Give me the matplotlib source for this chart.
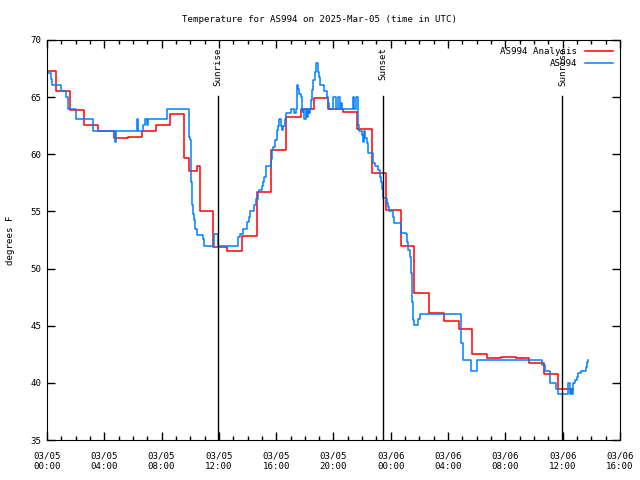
import pandas as pd
import matplotlib
matplotlib.use('Agg')
import matplotlib.pyplot as plt
import matplotlib.dates as mdates

# Start of the plotted period (UTC)
start = pd.Timestamp('2025-03-05 00:00')

# Analysis (hourly) - hours after start, degrees F
analysis_hours = [0.00, 0.61, 1.61, 2.60, 3.58, 4.68, 5.63, 6.60, 7.59, 8.59,
                  9.58, 9.91, 10.48, 10.67, 11.60, 12.59, 13.63, 14.64, 15.62,
                  16.68, 17.73, 18.64, 19.64, 20.68, 21.66, 22.66, 23.65, 24.69,
                  25.64, 26.69, 27.73, 28.76, 29.65, 30.69, 31.69, 32.74, 33.67,
                  34.72, 35.69, 36.70]
analysis_temp = [67.3, 65.5, 63.9, 62.6, 62.0, 61.45, 61.5, 62.0, 62.6, 63.5,
                 59.7, 58.5, 59.0, 55.0, 51.9, 51.5, 52.85, 56.7, 60.4,
                 63.3, 64.0, 64.9, 64.0, 63.7, 62.2, 58.4, 55.1, 51.97,
                 47.9, 46.1, 45.4, 44.7, 42.5, 42.2, 42.3, 42.2, 41.76,
                 40.77, 39.43, 39.43]

# Station observations
obs_hours = [0.00, 0.28, 0.35, 0.98, 1.33, 1.45, 2.02, 3.19, 4.75, 4.82,
             6.26, 6.35, 6.72, 6.84, 6.95, 7.05, 8.36, 9.93, 9.98, 10.03,
             10.10, 10.17, 10.24, 10.33, 10.45, 10.87, 10.96, 11.68, 11.92, 13.35,
             13.47, 13.70, 13.94, 14.10, 14.17, 14.47, 14.57, 14.75, 14.82, 14.99,
             15.08, 15.15, 15.29, 15.62, 15.71, 15.80, 15.92, 16.04, 16.08, 16.15,
             16.22, 16.31, 16.41, 16.50, 16.59, 16.68, 17.01, 17.26, 17.36, 17.43,
             17.54, 17.61, 17.71, 17.78, 17.89, 17.96, 18.06, 18.13, 18.20, 18.29,
             18.36, 18.43, 18.52, 18.59, 18.71, 18.78, 18.90, 18.94, 18.99, 19.06,
             19.36, 19.53, 19.64, 19.71, 19.94, 20.18, 20.29, 20.45, 20.52, 20.59,
             21.34, 21.45, 21.55, 21.73, 21.80, 21.97, 22.04, 22.13, 22.22, 22.32,
             22.43, 22.78, 22.90, 23.13, 23.25, 23.30, 23.37, 23.48, 23.76, 23.83,
             23.90, 24.18, 24.25, 24.71, 25.06, 25.15, 25.22, 25.34, 25.41, 25.46,
             25.53, 25.57, 25.64, 25.92, 26.04, 28.88, 29.06, 29.58, 30.04, 34.58,
             34.77, 35.11, 35.53, 35.65, 36.39, 36.51, 36.58, 36.65, 36.70, 36.74,
             36.86, 36.98, 37.09, 37.26, 37.61, 37.70, 37.79]
obs_temp = [67.1, 66.6, 66.06, 65.5, 65.0, 64.0, 63.06, 62.0, 61.1, 62.0,
            63.06, 62.0, 62.6, 63.06, 62.6, 63.06, 64.0, 61.5, 61.25, 57.6,
            55.56, 54.8, 54.25, 53.5, 52.9, 52.56, 52.0, 53.0, 52.0, 52.8,
            53.0, 53.5, 54.1, 54.5, 55.0, 55.56, 56.05, 56.7, 56.9, 57.2,
            57.6, 58.0, 59.0, 59.6, 60.4, 60.66, 61.25, 61.5, 62.1, 62.5,
            63.06, 62.5, 62.1, 62.5, 63.06, 63.6, 64.0, 63.6, 64.0, 66.06,
            65.7, 65.3, 65.0, 63.7, 64.0, 63.1, 64.0, 63.3, 64.0, 63.6,
            64.0, 64.75, 65.6, 66.5, 67.2, 67.96, 67.7, 67.2, 66.8, 66.06,
            65.5, 65.0, 64.45, 64.0, 65.0, 64.0, 65.0, 64.0, 64.5, 64.0,
            65.0, 64.0, 65.0, 62.56, 62.0, 61.7, 61.1, 62.0, 61.4, 61.0,
            60.1, 59.2, 59.0, 58.6, 58.0, 57.6, 57.0, 56.15, 55.7, 55.4,
            55.03, 54.54, 54.0, 53.1, 53.0, 52.35, 51.6, 51.04, 49.6, 47.1,
            46.2, 45.5, 45.06, 45.56, 46.0, 43.46, 42.0, 41.04, 42.0, 41.56,
            41.04, 40.0, 39.5, 39.0, 40.0, 39.0, 39.5, 39.0, 39.5, 39.96,
            40.25, 40.54, 40.83, 41.06, 41.4, 41.85, 42.0]

# Sun events
sun_labels = ['Sunrise', 'Sunset', 'Sunrise']
sun_times = ['2025-03-05 11:56', '2025-03-05 23:28', '2025-03-06 11:59']

t_analysis = start + pd.to_timedelta(analysis_hours, unit='h')
t_obs = start + pd.to_timedelta(obs_hours, unit='h')

font = 'DejaVu Sans Mono'
fs = 6.6

fig = plt.figure(figsize=(6.4, 4.8), dpi=100)
ax = fig.add_axes([47 / 640, 40 / 480, 573 / 640, 400 / 480])

ax.plot(t_analysis, analysis_temp, drawstyle='steps-post', color='#ff0000',
        linewidth=1.1, label='AS994 Analysis')
ax.plot(t_obs, obs_temp, drawstyle='steps-post', color='#0080ff',
        linewidth=1.1, label='AS994')

# Sunrise / sunset markers
for lab, tt in zip(sun_labels, sun_times):
    ts = pd.Timestamp(tt)
    ax.plot([ts, ts], [35, 65.1], color='black', linewidth=1)
    ax.text(ts, 69.35, lab, rotation=90, ha='center', va='top',
            family=font, fontsize=fs)

ax.set_xlim(start, start + pd.Timedelta(hours=40))
ax.set_ylim(35, 70)
ax.set_yticks(range(35, 71, 5))

ax.xaxis.set_major_locator(mdates.HourLocator(byhour=range(0, 24, 4)))
ax.xaxis.set_minor_locator(mdates.HourLocator())
ax.xaxis.set_major_formatter(mdates.DateFormatter('%m/%d\n%H:%M'))

ax.tick_params(which='both', direction='in', top=True, right=True,
               labelsize=fs, width=1)
ax.tick_params(which='major', length=6, pad=8)
ax.tick_params(which='minor', length=3)
for lbl in ax.get_xticklabels() + ax.get_yticklabels():
    lbl.set_family(font)
ax.tick_params(axis='y', pad=4)

ax.set_ylabel('degrees F', family=font, fontsize=fs)
ax.yaxis.set_label_coords(-0.056, 0.5)

# title is centred on the whole figure, not on the axes
fig.text(0.5, 1 - 19 / 480, 'Temperature for AS994 on 2025-Mar-05 (time in UTC)',
         ha='center', va='center', family=font, fontsize=fs)

leg = ax.legend(loc='upper right', frameon=False, markerfirst=False,
                prop={'family': font, 'size': fs}, handlelength=3.0,
                borderaxespad=0.4, labelspacing=0.3, handletextpad=0.9)
for t in leg.get_texts():
    t.set_ha('right')

fig.savefig('out.png', dpi=100)
